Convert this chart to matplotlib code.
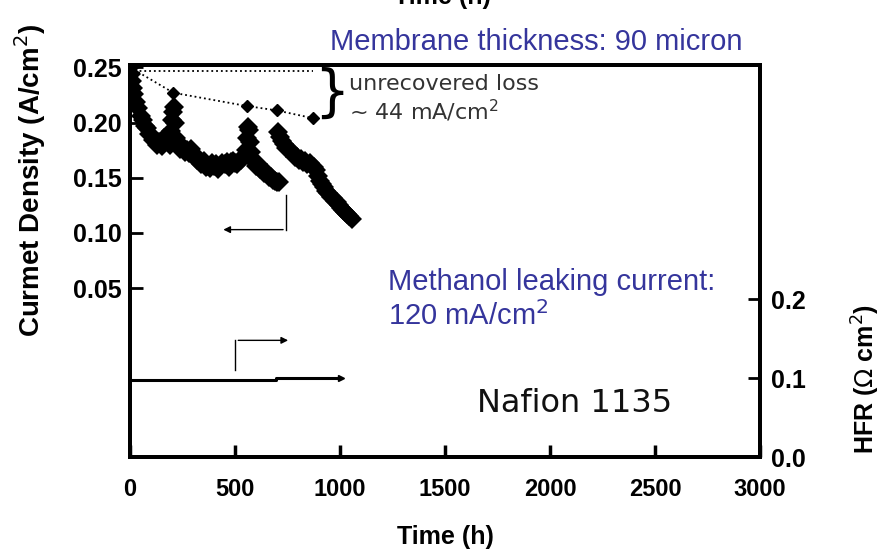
import matplotlib
matplotlib.use("Agg")
import matplotlib.pyplot as plt
import numpy as np

# 电流密度数据 (A/cm2), 两段
t1 = [0, 5, 10, 15, 20, 30, 40, 50, 60, 70, 80, 90, 100, 110, 120, 130, 140, 150,
      160, 170, 180, 190, 195, 200, 205, 210, 215, 220, 230, 240, 250, 260, 270,
      280, 290, 300, 310, 320, 330, 340, 350, 360, 370, 380, 390, 400, 410, 420,
      430, 440, 450, 460, 470, 480, 490, 500, 510, 520, 530, 540, 550, 555, 560,
      565, 570, 575, 580, 590, 600, 610, 620, 630, 640, 650, 660, 670, 680, 690,
      700, 710]
j1 = [0.250, 0.244, 0.238, 0.231, 0.226, 0.219, 0.213, 0.206, 0.202, 0.197, 0.195,
      0.190, 0.189, 0.184, 0.184, 0.180, 0.182, 0.179, 0.186, 0.186, 0.184, 0.180,
      0.192, 0.202, 0.210, 0.214, 0.200, 0.186, 0.179, 0.176, 0.178, 0.173, 0.175,
      0.172, 0.176, 0.171, 0.169, 0.166, 0.167, 0.162, 0.165, 0.160, 0.161, 0.159,
      0.163, 0.161, 0.162, 0.158, 0.161, 0.163, 0.162, 0.164, 0.160, 0.164, 0.165,
      0.163, 0.162, 0.165, 0.166, 0.169, 0.175, 0.186, 0.196, 0.193, 0.182, 0.173,
      0.167, 0.165, 0.161, 0.162, 0.158, 0.157, 0.154, 0.154, 0.151, 0.151, 0.148,
      0.147, 0.146, 0.146]
t2 = [705, 715, 725, 735, 745, 755, 765, 775, 785, 795, 805, 815, 825, 835, 845,
      855, 865, 875, 885, 895, 905, 915, 925, 935, 945, 955, 965, 975, 985, 995,
      1005, 1015, 1025, 1035, 1045, 1055]
j2 = [0.191, 0.187, 0.183, 0.181, 0.177, 0.176, 0.173, 0.172, 0.169, 0.169, 0.166,
      0.167, 0.164, 0.165, 0.162, 0.163, 0.161, 0.160, 0.157, 0.152, 0.147, 0.144,
      0.142, 0.138, 0.136, 0.133, 0.132, 0.129, 0.128, 0.125, 0.123, 0.121, 0.119,
      0.117, 0.115, 0.113]

# 恢复后的峰值 (点线)
t_peak = [0, 206, 555, 698, 870]
j_peak = [0.250, 0.227, 0.215, 0.211, 0.204]
t_ref = [0, 870]
j_ref = [0.2465, 0.2465]

# HFR (ohm cm2)
t_hfr = [0, 694, 694, 1005]
hfr = [0.0975, 0.0975, 0.100, 0.100]

xticks = [0, 500, 1000, 1500, 2000, 2500, 3000]
yticks_l = [0.05, 0.10, 0.15, 0.20, 0.25]
yticks_r = [0.0, 0.1, 0.2]

tickfont = ['Liberation Sans', 'DejaVu Sans']
blue = '#35359c'

fig = plt.figure(figsize=(8.84, 5.52), dpi=100)
ax = fig.add_axes([0.1471, 0.172, 0.7127, 0.710])
ax2 = ax.twinx()

ax.plot(t1, j1, 'kD', ms=10, mew=0)
ax.plot(t2, j2, 'kD', ms=10, mew=0)
ax.plot(t_ref, j_ref, 'k:', lw=1.3)
ax.plot(t_peak, j_peak, 'k:', lw=1.3)
ax.plot(t_peak[1:], j_peak[1:], 'kD', ms=6.5, ls='none')

ax2.plot(t_hfr, hfr, 'k-', lw=2.2)
ax2.plot(t_hfr[-1:], hfr[-1:], 'k>', ms=4)

# 箭头
ax.plot([742, 742], [0.134, 0.103], 'k-', lw=1)
ax.annotate('', xy=(431, 0.103), xytext=(742, 0.103),
            arrowprops=dict(arrowstyle='-|>', color='k', lw=1, mutation_scale=10))
ax2.plot([502, 502], [0.11, 0.148], 'k-', lw=1)
ax2.annotate('', xy=(766, 0.148), xytext=(502, 0.148),
             arrowprops=dict(arrowstyle='-|>', color='k', lw=1, mutation_scale=10))

ax.set_xlim(0, 3000)
ax.set_ylim(-0.103, 0.252)
ax2.set_ylim(0, 0.497)

ax.set_xticks(xticks)
ax.set_xticklabels([str(v) for v in xticks], family=tickfont, weight='bold', fontsize=17)
ax.set_yticks(yticks_l)
ax.set_yticklabels(['%.2f' % v for v in yticks_l], family=tickfont, weight='bold', fontsize=18)
ax2.set_yticks(yticks_r)
ax2.set_yticklabels(['%.1f' % v for v in yticks_r], family=tickfont, weight='bold', fontsize=18)

ax.tick_params(axis='x', direction='in', length=9, width=2.5, pad=15)
ax.tick_params(axis='y', direction='in', length=9, width=2, pad=6)
ax2.tick_params(axis='y', direction='in', length=9, width=2, pad=8)
for a in (ax, ax2):
    for s in a.spines.values():
        s.set_linewidth(2.8)

ax.set_xlabel('Time (h)', family=tickfont, weight='bold', fontsize=18, labelpad=17)
ax.set_ylabel('Curmet Density (A/cm$^2$)', family=tickfont, weight='bold', fontsize=20)
ax.yaxis.set_label_coords(-0.13, 0.705)
ax2.set_ylabel('HFR ($\\Omega$ cm$^2$)', family=tickfont, weight='bold', fontsize=18)
ax2.yaxis.set_label_coords(1.142, 0.2)

# 文字标注
ax.text(962, 0.2265, '}', fontsize=40, va='center', ha='center',
        family='DejaVu Sans')
ax.text(1045, 0.235, 'unrecovered loss', fontsize=16, color='#333333', va='center')
ax.text(1045, 0.211, '~ 44 mA/cm$^2$', fontsize=16, color='#333333', va='center')
fig.text(330 / 884, 1 - 42 / 552, 'Membrane thickness: 90 micron', color=blue,
         fontsize=21, family='Liberation Sans', va='center')
fig.text(388 / 884, 1 - 282 / 552, 'Methanol leaking current:', color=blue,
         fontsize=21, family='Liberation Sans', va='center')
fig.text(388 / 884, 1 - 316 / 552, '120 mA/cm$^2$', color=blue,
         fontsize=21, family='Liberation Sans', va='center')
fig.text(477 / 884, 1 - 403 / 552, 'Nafion 1135', color='#111111',
         fontsize=23, family='DejaVu Sans', va='center')
fig.text(442 / 884, 1 - 9 / 552, 'Time (h)', family=tickfont, weight='bold',
         fontsize=18, ha='center', va='bottom')

fig.savefig('out.png', dpi=100)
